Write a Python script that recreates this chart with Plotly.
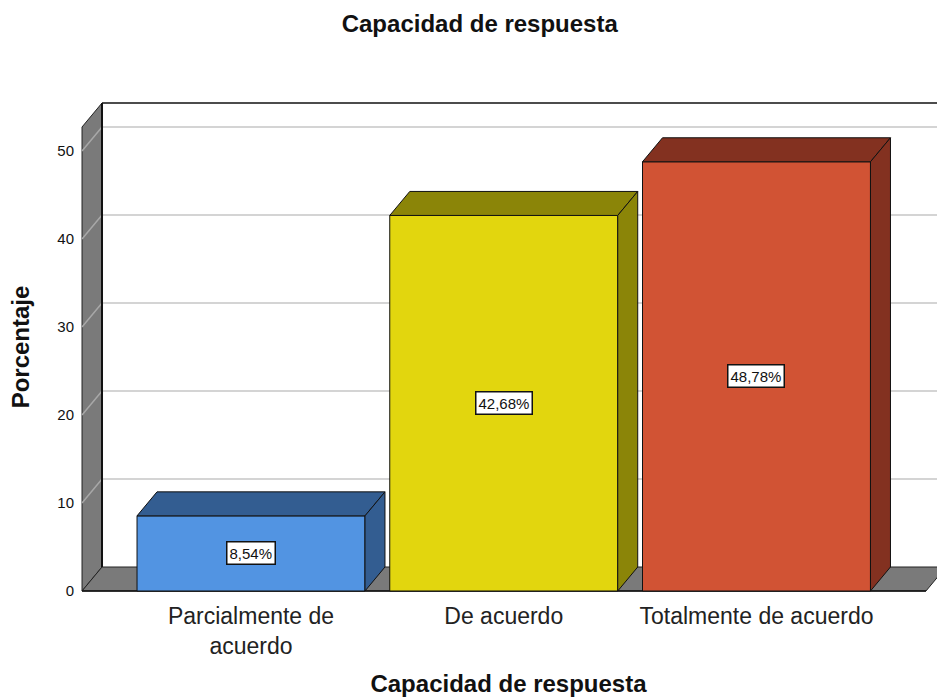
import plotly.graph_objects as go

# ---- data ----
categories = ["Parcialmente de<br>acuerdo", "De acuerdo", "Totalmente de acuerdo"]
values = [8.54, 42.68, 48.78]
labels = ["8,54%", "42,68%", "48,78%"]
y_ticks = [0, 10, 20, 30, 40, 50]

front_colors = ["#5294e2", "#e2d60e", "#d15334"]
dark_colors = ["#335d91", "#8b8508", "#833120"]

# ---- 3D geometry (in axis units) ----
DX, DY = 0.0791, 2.727          # depth offset of back plane
BAR_W = 0.902
X0, XR = -0.6686, 2.6706        # front left / right of floor
YMAX = 52.73                    # wall height (front)
XRANGE = [-0.6766, 2.7142]
YRANGE = [-0.34, 55.8]
WALL = "#7a7a7a"
FONT = "Liberation Sans, Arial, sans-serif"

fig = go.Figure()
shapes = []

def poly(pts):
    return "M " + " L ".join(f"{x},{y}" for x, y in pts) + " Z"

# left wall
shapes.append(dict(type="path", layer="below", xref="x", yref="y",
                   path=poly([(X0, 0), (X0, YMAX), (X0 + DX, YMAX + DY), (X0 + DX, DY)]),
                   fillcolor=WALL, line=dict(color="#222", width=1)))
# floor
shapes.append(dict(type="path", layer="below", xref="x", yref="y",
                   path=poly([(X0, 0), (XR, 0), (XR + DX, DY), (X0 + DX, DY)]),
                   fillcolor=WALL, line=dict(color="#222", width=1)))
# gridlines (back wall + left wall diagonals)
for t in y_ticks[1:]:
    shapes.append(dict(type="line", layer="below", xref="x", yref="y",
                       x0=X0, y0=t, x1=X0 + DX, y1=t + DY,
                       line=dict(color="#a8a8a8", width=1.5)))
    shapes.append(dict(type="line", layer="below", xref="x", yref="y",
                       x0=X0 + DX, y0=t + DY, x1=XRANGE[1] + 0.1, y1=t + DY,
                       line=dict(color="#d4d4d4", width=2)))
# back wall top edge and back-left vertical edge
shapes.append(dict(type="line", layer="below", xref="x", yref="y",
                   x0=X0 + DX, y0=YMAX + DY, x1=XRANGE[1] + 0.1, y1=YMAX + DY,
                   line=dict(color="#111", width=1.5)))
shapes.append(dict(type="line", layer="below", xref="x", yref="y",
                   x0=X0 + DX, y0=DY, x1=X0 + DX, y1=YMAX + DY,
                   line=dict(color="#111", width=2)))
shapes.append(dict(type="line", layer="below", xref="x", yref="y",
                   x0=X0, y0=0, x1=XR, y1=0,
                   line=dict(color="#111", width=1.5)))

xs = list(range(len(values)))

# bar fronts
fig.add_trace(go.Bar(x=xs, y=values, width=BAR_W,
                     marker=dict(color=front_colors, line=dict(color="#111", width=1)),
                     hoverinfo="skip", showlegend=False))

# top and side faces
for i, v in enumerate(values):
    xl, xr = i - BAR_W / 2, i + BAR_W / 2
    top = [(xl, v), (xl + DX, v + DY), (xr + DX, v + DY), (xr, v), (xl, v)]
    side = [(xr, 0), (xr, v), (xr + DX, v + DY), (xr + DX, DY), (xr, 0)]
    for pts in (top, side):
        fig.add_trace(go.Scatter(x=[p[0] for p in pts], y=[p[1] for p in pts],
                                 mode="lines", fill="toself", fillcolor=dark_colors[i],
                                 line=dict(color="#111", width=1),
                                 hoverinfo="skip", showlegend=False))

annotations = []
for i, v in enumerate(values):
    annotations.append(dict(x=i, y=v / 2, xref="x", yref="y", text=labels[i],
                            showarrow=False, bgcolor="white", bordercolor="#111",
                            borderwidth=1.5, borderpad=2,
                            font=dict(family=FONT, size=15, color="#111")))

fig.update_layout(
    width=937, height=697,
    margin=dict(l=80, r=0, t=100, b=103, autoexpand=False),
    paper_bgcolor="white", plot_bgcolor="white",
    title=dict(text="<b>Capacidad de respuesta</b>", x=0.512, xanchor="center",
               y=1 - 24 / 697, yanchor="middle",
               font=dict(family=FONT, size=24, color="#111")),
    xaxis=dict(range=XRANGE, tickvals=xs, ticktext=categories, showgrid=False,
               zeroline=False, showline=False, ticks="", ticklabelstandoff=6,
               automargin=False,
               tickfont=dict(family=FONT, size=23, color="#222"),
               title=dict(text="<b>Capacidad de respuesta</b>", standoff=22,
                          font=dict(family=FONT, size=24, color="#111"))),
    yaxis=dict(range=YRANGE, tickvals=y_ticks, showgrid=False, zeroline=False,
               showline=False, ticks="", ticklabelstandoff=5, automargin=False,
               tickfont=dict(family=FONT, size=15, color="#111"),
               title=dict(text="<b>Porcentaje</b>", standoff=20,
                          font=dict(family=FONT, size=24, color="#111"))),
    shapes=shapes, annotations=annotations,
    hovermode=False,
)

fig.write_html("out.html", config={"displayModeBar": False},
               post_script="document.body.style.margin='0px';")
